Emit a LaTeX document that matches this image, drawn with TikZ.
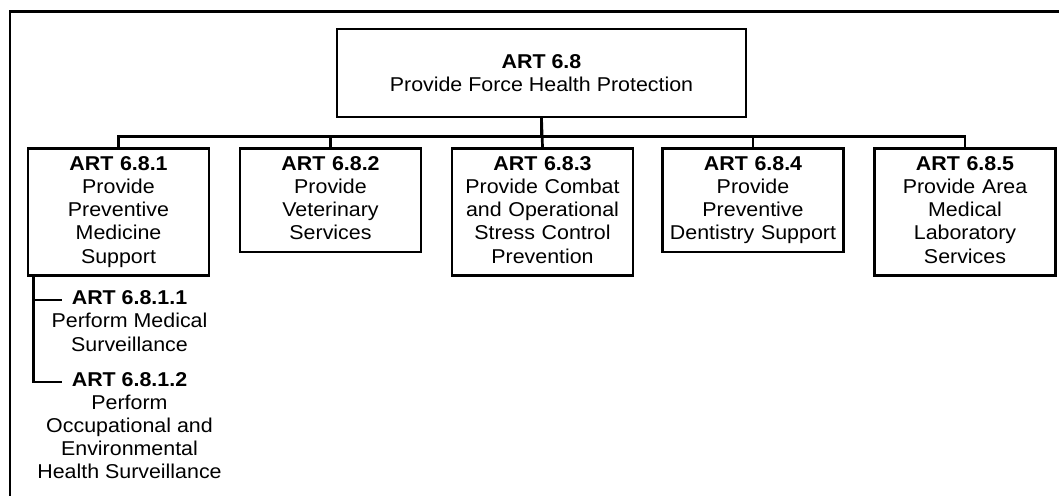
\documentclass[tikz,border=0pt]{standalone}
\usepackage{fontspec}
\setmainfont{Liberation Sans}[FakeStretch=1.07]
\usepackage{tikz}

\tikzset{
  every node/.style={font=\fontsize{20}{23.2}\selectfont},
  task/.style={draw, line width=2.7pt, align=center, text width=175pt, inner xsep=3pt, inner ysep=8pt, anchor=north, execute at end node={\vphantom{p}}},
  head/.style={draw, line width=2.7pt, align=center, minimum width=409pt, minimum height=88pt},
  subtask/.style={align=center, inner sep=0pt, anchor=north},
  link/.style={line width=2.7pt},
}

\begin{document}
\begin{tikzpicture}[x=1pt,y=-1pt]
\useasboundingbox (0,0) rectangle (1059,495);
% frame
\coordinate (fsw) at (10,520);
\coordinate (fne) at (1080,11.7);
\draw[link] (fsw) |- (fne);
% top task
\node[head] (art) at (541.5,73) {\textbf{ART 6.8}\\Provide Force Health Protection};
% second level
\node[task] (art1) at (118.5,147) {\textbf{ART 6.8.1}\\Provide\\Preventive\\Medicine\\Support};
\node[task] (art2) at (330.5,147) {\textbf{ART 6.8.2}\\Provide\\Veterinary\\Services};
\node[task] (art3) at (542.5,147) {\textbf{ART 6.8.3}\\Provide Combat\\and Operational\\Stress Control\\Prevention};
\node[task] (art4) at (753,147) {\textbf{ART 6.8.4}\\Provide\\Preventive\\Dentistry Support};
\node[task] (art5) at (965,147) {\textbf{ART 6.8.5}\\Provide Area\\Medical\\Laboratory\\Services};
\draw[link] (art.south) -- ++(0,18) -| (art1.north);
\draw[link] (art.south) -- ++(0,18) -| (art2.north);
\draw[link] (art.south) -- (art3.north);
\draw[link] (art.south) -- ++(0,18) -| (art4.north);
\draw[link] (art.south) -- ++(0,18) -| (art5.north);
% third level
\node[subtask] (art11) at (129.5,290.5) {\textbf{ART 6.8.1.1}\\Perform Medical\\Surveillance};
\node[subtask] (art12) at (129.5,372) {\textbf{ART 6.8.1.2}\\Perform\\Occupational and\\Environmental\\Health Surveillance};
\coordinate (t0) at ([xshift=7pt]art1.south west);
\coordinate (t1) at (62,300);
\coordinate (t2) at (62,382);
\draw[link] (t0) |- (t2);
\draw[link] (t0 |- t1) -- (t1);
\end{tikzpicture}
\end{document}
